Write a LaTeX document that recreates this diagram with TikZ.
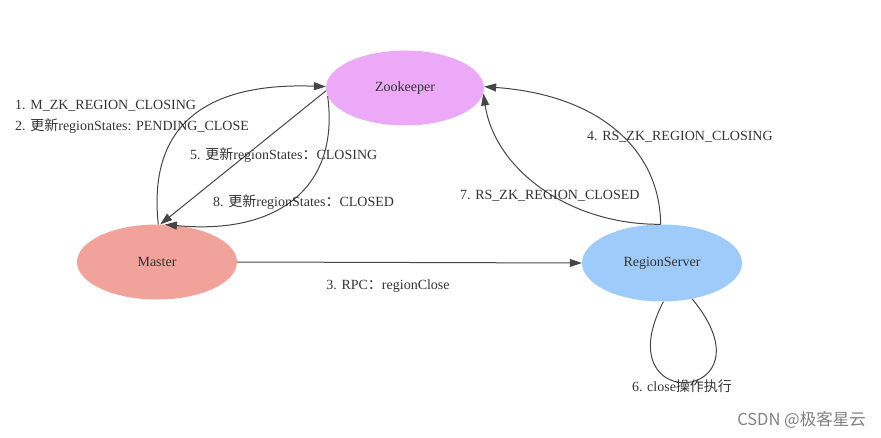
\documentclass[tikz,border=0pt]{standalone}
\usepackage{fontspec}
\setmainfont{Liberation Serif}
\newfontfamily\cjk{Noto Sans CJK SC}
\usetikzlibrary{shapes.geometric,arrows.meta}
\definecolor{zkcol}{HTML}{ECA9F7}
\definecolor{mcol}{HTML}{F0A29B}
\definecolor{rscol}{HTML}{9FCBFA}
\definecolor{linecol}{HTML}{454545}
\definecolor{txtcol}{HTML}{333333}
\tikzset{
  ell/.style={ellipse, draw=none, inner sep=0pt, minimum width=158pt, minimum height=75pt, text=txtcol, font=\fontsize{14}{16}\selectfont},
  edge/.style={draw=linecol, line width=1pt},
  arr/.style={edge, -{Triangle[length=12pt,width=8pt]}},
  lbl/.style={text=txtcol, inner sep=0pt, font=\fontsize{14}{16}\selectfont},
}
\begin{document}
\begin{tikzpicture}[x=1pt,y=-1pt]
\useasboundingbox (0,0) rectangle (881,438);
\node[ell, fill=zkcol] (Z) at (405,88) {Zookeeper};
\node[ell, fill=mcol, minimum width=160pt] (M) at (157,262) {Master};
\node[ell, fill=rscol, minimum width=160pt, minimum height=77pt] (R) at (662,263) {RegionServer};

% Master <-> Zookeeper
\draw[arr] (M.88) .. controls (148,130) and (200,82) .. (Z.179);
\draw[arr] (Z.182) -- (M.85);
\draw[arr] (Z.186) .. controls (340,190) and (275,235) .. (M.78);

% RegionServer -> Zookeeper
\draw[arr] (R.92) .. controls (660,150) and (600,95) .. (Z.1);
\draw[arr] (R.92) .. controls (570,225) and (495,170) .. (Z.-4);

% RPC
\draw[arr] (M.east) -- (R.west);

% self loop
\draw[edge] (R.-88) .. controls (603,418) and (778,402) .. (R.-50);

% labels
\node[lbl, anchor=west] (l1) at (15,106) {1. M\_ZK\_REGION\_CLOSING};
\node[lbl, anchor=west] (l2) at (15,126) {2. {\cjk 更新}regionStates: PENDING\_CLOSE};
\node[lbl, anchor=west] (l5) at (190,155) {5. {\cjk 更新}regionStates{\cjk ：}CLOSING};
\node[lbl, anchor=west] (l8) at (213,202) {8. {\cjk 更新}regionStates{\cjk ：}CLOSED};
\node[lbl, anchor=west] (l4) at (587,137) {4. RS\_ZK\_REGION\_CLOSING};
\node[lbl, anchor=west] (l7) at (460,196) {7. RS\_ZK\_REGION\_CLOSED};
\node[lbl] (l3) at (388,286) {3. RPC{\cjk ：}regionClose};
\node[lbl] (l6) at (682,386) {6. close{\cjk 操作执行}};
\node[lbl, anchor=east, text=gray, font=\cjk\fontsize{16.5}{18}\selectfont] (wm) at (866,420) {CSDN @极客星云};
\end{tikzpicture}
\end{document}
